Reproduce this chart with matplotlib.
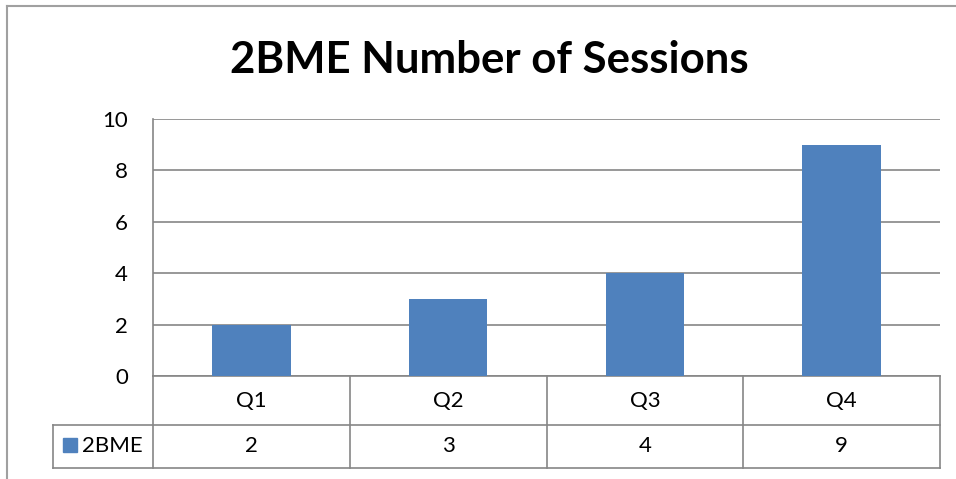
import numpy as np
import matplotlib.pyplot as plt
from matplotlib.lines import Line2D
from matplotlib.patches import Rectangle

# Datos de la tabla
categorias = ['Q1', 'Q2', 'Q3', 'Q4']
sesiones = [2, 3, 4, 9]
serie = '2BME'
ticks_y = [0, 2, 4, 6, 8, 10]

W, H = 956, 479
plt.rcParams['font.family'] = ['Lato', 'DejaVu Sans']

fig = plt.figure(figsize=(W / 100, H / 100), dpi=100)

def fx(px):
    return px / W

def fy(py):
    return 1 - py / H

gris = '#868686'
azul = '#4F81BD'

# Borde del gráfico
fig.add_artist(Line2D([fx(7), fx(956)], [fy(6), fy(6)], color='#a0a0a0', lw=1.5,
                      transform=fig.transFigure))
fig.add_artist(Line2D([fx(7), fx(7)], [fy(6), fy(479)], color='#a0a0a0', lw=1.5,
                      transform=fig.transFigure))

ax = fig.add_axes([fx(153), fy(376), fx(940) - fx(153), fy(119) - fy(376)])
x = np.arange(len(categorias))
ax.bar(x, sesiones, width=0.4, color=azul, zorder=3)
ax.set_xlim(-0.5, len(categorias) - 0.5)
ax.set_ylim(0, 10)
ax.set_yticks(ticks_y)
ax.tick_params(axis='y', length=0, labelsize=16, pad=18)
ax.set_xticks([])
ax.grid(axis='y', color=gris, lw=1.2, zorder=0)
for s in ['top', 'right']:
    ax.spines[s].set_visible(False)
ax.spines['left'].set_color(gris)
ax.spines['left'].set_linewidth(1.2)
ax.spines['bottom'].set_color(gris)
ax.spines['bottom'].set_linewidth(1.2)

fig.text(fx(489), fy(60), '2BME Number of Sessions', ha='center', va='center',
         fontsize=31.5, fontweight='bold')

# Tabla de datos
tr = ax.get_xaxis_transform()
hpx = 376 - 119
r1 = -(425 - 376) / hpx
r2 = -(468 - 376) / hpx
x_leyenda = ax.transData.inverted().transform((fx(53) * W, 0))[0]
kw = dict(color=gris, lw=1.2, transform=tr, clip_on=False)
ax.add_line(Line2D([x_leyenda, 3.5], [r1, r1], **kw))
ax.add_line(Line2D([x_leyenda, 3.5], [r2, r2], **kw))
ax.add_line(Line2D([x_leyenda, x_leyenda], [r1, r2], **kw))
for b in np.arange(-0.5, len(categorias)):
    ax.add_line(Line2D([b, b], [0, r2], **kw))
for i, (c, v) in enumerate(zip(categorias, sesiones)):
    ax.text(i, r1 / 2, c, transform=tr, ha='center', va='center', fontsize=16)
    ax.text(i, (r1 + r2) / 2, str(v), transform=tr, ha='center', va='center', fontsize=16)

fig.add_artist(Rectangle((fx(63), fy(452)), fx(14), fy(438) - fy(452), color=azul,
                         transform=fig.transFigure))
fig.text(fx(82), fy(446), serie, ha='left', va='center', fontsize=16)

fig.savefig('out.png', dpi=100)
